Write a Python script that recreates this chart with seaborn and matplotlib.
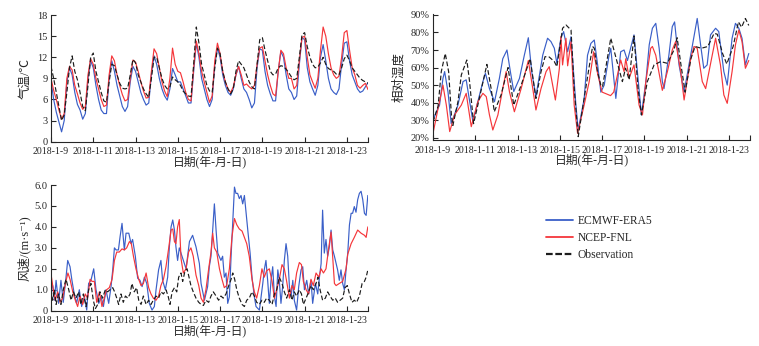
import numpy as np
import pandas as pd
import matplotlib
matplotlib.use("Agg")
import matplotlib.pyplot as plt
from matplotlib.lines import Line2D
import seaborn as sns

# ---------------- data ----------------
START = pd.Timestamp("2018-01-09")
sources = ["ECMWF-ERA5", "NCEP-FNL", "Observation"]
tick_dates = ["2018-01-09", "2018-01-11", "2018-01-13", "2018-01-15",
              "2018-01-17", "2018-01-19", "2018-01-21", "2018-01-23", "2018-01-24"]
tick_labels = ["2018-1-9", "2018-1-11", "2018-1-13", "2018-1-15",
               "2018-1-17", "2018-1-19", "2018-1-21", "2018-1-23", ""]

# Temperature, 3-hourly from 2018-01-09 00:00 (hours)
temp_hours = list(range(0, 361, 3))
temp_ecmwf = [8.7, 6.0, 4.2, 2.8, 1.4, 3.0, 8.5, 10.5,
              9.5, 7.0, 5.3, 4.5, 3.2, 4.0, 9.0, 11.5,
              10.5, 8.0, 6.0, 4.5, 4.0, 4.0, 9.0, 11.5,
              10.0, 8.0, 6.5, 5.0, 4.3, 5.0, 8.5, 10.7,
              10.0, 8.5, 7.0, 6.0, 5.2, 5.5, 9.5, 12.2,
              11.0, 9.0, 7.5, 6.5, 5.9, 7.5, 10.4, 9.5,
              8.5, 8.5, 7.5, 6.5, 5.5, 5.5, 10.0, 14.0,
              12.0, 9.0, 7.5, 6.0, 5.0, 6.0, 11.0, 13.3,
              12.0, 9.5, 8.0, 7.0, 6.6, 7.5, 9.5, 10.7,
              9.0, 7.5, 7.0, 6.0, 4.8, 5.5, 10.5, 13.2,
              13.0, 10.0, 8.0, 6.8, 5.8, 5.8, 10.0, 12.8,
              12.0, 9.5, 7.5, 7.0, 6.0, 6.5, 11.0, 14.8,
              14.5, 10.5, 8.5, 7.5, 6.6, 8.0, 12.0, 13.8,
              11.5, 9.0, 7.5, 7.0, 6.7, 7.5, 11.0, 14.0,
              14.2, 11.5, 9.5, 8.5, 7.5, 7.0, 7.2, 7.8,
              8.4]
temp_ncep = [9.0, 7.3, 6.0, 4.5, 3.2, 4.0, 9.0, 10.7,
             10.2, 8.0, 6.8, 5.5, 4.6, 5.0, 9.5, 11.8,
             11.0, 9.0, 7.5, 6.0, 5.0, 5.2, 9.5, 12.2,
             11.5, 9.5, 8.0, 6.7, 5.8, 6.0, 9.0, 11.6,
             11.3, 10.0, 8.5, 7.2, 6.2, 6.3, 10.0, 13.2,
             12.5, 10.5, 8.5, 7.2, 6.4, 9.0, 13.3, 11.0,
             10.0, 9.8, 8.5, 7.0, 6.0, 5.8, 10.5, 14.3,
             12.5, 10.0, 8.5, 7.0, 5.6, 6.5, 11.5, 14.0,
             12.5, 10.0, 8.5, 7.5, 7.0, 7.8, 9.5, 10.7,
             9.5, 8.0, 8.2, 7.8, 7.5, 8.0, 11.0, 13.3,
             13.5, 11.5, 9.5, 8.0, 6.8, 6.5, 10.0, 13.0,
             12.5, 10.5, 9.0, 9.0, 7.5, 8.0, 11.5, 14.8,
             15.0, 12.0, 9.5, 8.5, 7.6, 9.0, 13.0, 16.3,
             15.0, 12.5, 10.5, 9.5, 9.0, 9.3, 12.0, 15.5,
             15.8, 13.0, 10.5, 9.5, 8.0, 7.6, 8.0, 8.3,
             7.4]
temp_obs = [10.7, 9.0, 7.0, 5.0, 3.0, 3.8, 7.0, 10.5,
            12.2, 10.0, 8.8, 7.0, 5.0, 4.4, 8.0, 12.0,
            12.6, 10.0, 8.5, 7.0, 5.8, 5.6, 8.5, 11.0,
            10.8, 9.5, 8.3, 7.6, 7.5, 7.6, 9.5, 11.7,
            11.2, 9.5, 8.5, 7.5, 6.8, 6.3, 9.0, 12.0,
            12.0, 10.5, 9.0, 8.0, 7.5, 7.8, 9.2, 8.8,
            8.5, 8.0, 7.2, 6.8, 6.5, 6.4, 11.0, 16.3,
            14.0, 11.0, 9.5, 8.0, 7.2, 7.0, 10.5, 13.3,
            12.5, 10.0, 8.5, 7.5, 6.8, 7.5, 10.0, 11.5,
            11.0, 10.5, 9.5, 8.5, 7.8, 7.5, 11.0, 14.5,
            14.8, 13.0, 11.5, 10.0, 9.5, 9.6, 10.5, 10.8,
            10.7, 10.3, 9.8, 9.2, 8.8, 9.0, 12.0, 15.2,
            15.5, 13.5, 12.0, 11.0, 10.5, 10.6, 11.2, 12.0,
            11.0, 10.4, 10.2, 10.0, 9.6, 9.5, 10.5, 11.8,
            12.3, 11.5, 10.5, 10.0, 9.5, 9.0, 8.7, 8.5,
            8.3]

# Relative humidity (%), sample times in days since 2018-01-09 00:00
rh_ecmwf_days = [0, 0.16, 0.31, 0.47, 0.55, 0.71, 0.86, 1.18, 1.42, 1.57, 1.89, 2.12, 2.36, 2.48,
                 2.67, 2.91, 3.14, 3.3, 3.5, 3.66, 3.82, 4.09, 4.32, 4.51, 4.67, 4.87, 5.19, 5.42,
                 5.58, 5.74, 5.86, 6.05, 6.18, 6.37, 6.53, 6.76, 6.87, 7.15, 7.31, 7.47, 7.63, 7.79,
                 7.94, 8.1, 8.33, 8.41, 8.65, 8.88, 9.04, 9.2, 9.51, 9.67, 9.86, 10.07, 10.23, 10.38,
                 10.54, 10.7, 10.85, 10.93, 11.16, 11.32, 11.43, 11.64, 11.88, 12.19, 12.5, 12.66,
                 12.81, 12.97, 13.13, 13.37, 13.52, 13.76, 13.92, 14.15, 14.31, 14.47, 14.62, 14.78,
                 14.94]
rh_ecmwf = [30, 34.8, 38.6, 53.8, 57.7, 46, 28, 38.6, 52, 53, 29, 40.5, 52, 56.7,
            48, 40.5, 53.8, 65, 70, 57.7, 46.3, 53.8, 67, 77, 57.7, 43.4, 67, 76.7,
            74.8, 71, 62.4, 76.7, 80.5, 69, 77.6, 38.6, 24.4, 42, 67, 73.8, 75.7, 61.5,
            46, 50, 67, 71, 42.4, 69, 70, 64, 78.6, 57.7, 33, 52, 73, 82.4,
            85.2, 71, 52, 48, 67, 83.3, 86, 61.5, 46, 67, 88, 73,
            59.6, 61.5, 78.6, 82.4, 80.5, 57.7, 50, 76.7, 85.2, 82.4, 76.7, 61.5,
            68]
rh_ncep_days = [0, 0.24, 0.47, 0.63, 0.79, 1.02, 1.34, 1.57, 1.81, 2.12, 2.36, 2.52, 2.67, 2.83,
                3.07, 3.3, 3.46, 3.62, 3.85, 4.17, 4.51, 4.72, 4.87, 5.11, 5.35, 5.5, 5.79, 5.98,
                6.05, 6.13, 6.29, 6.37, 6.53, 6.68, 6.84, 7.15, 7.39, 7.6, 7.8, 8.0, 8.2, 8.4,
                8.55, 8.88, 9.04, 9.12, 9.28, 9.51, 9.75, 9.91, 10.07, 10.3, 10.38, 10.54, 10.77,
                10.85, 11.09, 11.32, 11.48, 11.72, 11.88, 12.19, 12.35, 12.5, 12.74, 12.9, 13.21,
                13.37, 13.6, 13.76, 13.92, 14.15, 14.31, 14.47, 14.62, 14.78, 14.94]
rh_ncep = [22.5, 36.7, 50, 38.6, 23.5, 33, 38.6, 45.3, 26.3, 40.5, 45.3, 43.4, 33, 24.4,
           33, 48, 57.7, 46, 34.8, 48, 64, 48, 35.8, 48, 57.7, 60.5, 41.5, 59.6,
           77.6, 61.5, 76.7, 61, 74.8, 38.6, 22.5, 38.6, 52, 69, 55.8, 46, 45, 44,
           46, 64.3, 57.7, 65, 54, 61.5, 38.6, 33, 52, 71, 72, 67, 52,
           47, 57.7, 70, 74.8, 57.7, 41.5, 65, 72, 71, 52, 48, 67,
           76.7, 61.5, 44.4, 39.6, 57.7, 73, 81.4, 74.8, 59.6, 64]
rh_obs_days = [0, 0.24, 0.39, 0.58, 0.74, 0.87, 0.94, 1.18, 1.34, 1.6, 1.73, 1.92, 2.12, 2.55,
               2.75, 2.9, 3.22, 3.55, 3.82, 4.17, 4.6, 4.8, 4.87, 5.11, 5.3, 5.5, 5.74, 5.86,
               6.13, 6.29, 6.53, 6.68, 6.87, 7.15, 7.39, 7.55, 7.63, 7.78, 7.94, 8.02, 8.41,
               8.67, 8.96, 9.11, 9.28, 9.51, 9.7, 9.86, 10.14, 10.46, 10.77, 11.09, 11.4, 11.55,
               11.75, 11.93, 12.2, 12.4, 12.7, 13.0, 13.3, 13.45, 13.7, 13.9, 14.2, 14.45,
               14.6, 14.78, 14.94]
rh_obs = [29, 38, 57.6, 68, 57.6, 33, 27, 40.5, 55.8, 64.3, 52, 28, 38.6, 61.8,
          48, 34.8, 44.4, 60, 38.6, 50, 65, 48, 42.4, 57.6, 66.2, 66, 63.4, 60.5,
          82.4, 84.3, 81.4, 48, 20.6, 42.4, 60.5, 72, 71, 57.7, 50, 49, 76.7,
          65, 52, 59.6, 53, 78, 48, 33, 52, 61.5, 63.4, 62.4, 70, 77,
          60, 46, 65, 72, 71, 72, 79.5, 79, 68, 62, 72, 86,
          83, 88, 84]

# Wind speed (m/s), sample times in days since 2018-01-09 00:00
ws_ecmwf_days = [0, 0.08, 0.16, 0.24, 0.36, 0.47, 0.58, 0.71, 0.79, 0.9, 0.99, 1.1, 1.21, 1.34,
                 1.45, 1.58, 1.69, 1.78, 1.89, 2.02, 2.13, 2.26, 2.37, 2.48, 2.6, 2.73, 2.84, 2.92,
                 3.0, 3.08, 3.19, 3.27, 3.36, 3.47, 3.55, 3.68, 3.79, 3.86, 3.99, 4.1, 4.21, 4.31,
                 4.42, 4.53, 4.65, 4.78, 4.89, 4.97, 5.09, 5.2, 5.28, 5.41, 5.52, 5.6, 5.68, 5.76,
                 5.84, 5.91, 5.99, 6.07, 6.39, 6.55, 6.7, 6.86, 7.02, 7.1, 7.26, 7.41, 7.49, 7.57,
                 7.65, 7.73, 7.81, 7.89, 8.04, 8.12, 8.2, 8.28, 8.36, 8.44, 8.52, 8.6, 8.68, 8.75,
                 8.83, 8.91, 8.99, 9.07, 9.15, 9.23, 9.31, 9.42, 9.51, 9.62, 9.7, 9.86, 9.94, 10.02,
                 10.09, 10.17, 10.25, 10.33, 10.41, 10.49, 10.57, 10.65, 10.73, 10.8, 10.88, 10.96,
                 11.04, 11.12, 11.2, 11.28, 11.36, 11.44, 11.51, 11.62, 11.72, 11.83, 11.91, 11.99,
                 12.1, 12.19, 12.3, 12.38, 12.51, 12.62, 12.7, 12.78, 12.85, 12.93, 13.01, 13.09,
                 13.17, 13.25, 13.33, 13.41, 13.49, 13.56, 13.64, 13.72, 13.8, 13.88, 13.96, 14.04,
                 14.12, 14.2, 14.27, 14.35, 14.43, 14.51, 14.59, 14.67, 14.75, 14.83, 14.91, 14.99]
ws_ecmwf = [1.07, 1.2, 0.5, 1.45, 0.35, 1.45, 0.4, 1.6, 2.4, 2.1, 1.45, 0.8, 0.35, 1.0,
            0.2, 0.67, 0.03, 1.3, 1.45, 2.0, 1.0, 0.35, 0.67, 0.2, 1.0, 0.35, 1.15, 1.95,
            3.0, 2.9, 2.9, 3.55, 4.17, 2.9, 3.7, 3.7, 3.2, 3.4, 2.6, 1.55, 1.45, 1.15,
            1.6, 1.3, 0.35, 0.03, 0.2, 1.0, 1.95, 2.4, 1.45, 1.0, 1.6, 3.05, 4.0, 4.33,
            3.85, 3.05, 2.4, 3.0, 2.0, 3.3, 3.6, 3.05, 2.25, 1.3, 0.5, 1.15, 2.1, 2.6,
            3.85, 5.1, 3.85, 2.75, 2.4, 2.6, 1.6, 1.8, 0.35, 0.67, 2.6, 4.2, 5.9, 5.6,
            5.6, 5.35, 5.5, 5.1, 5.5, 4.65, 3.85, 2.75, 1.6, 0.67, 0.2, 0.03, 0.67, 1.3,
            1.95, 2.4, 1.45, 0.35, 1.45, 2.1, 0.67, 0.2, 1.95, 1.45, 0.35, 1.15,
            2.4, 3.2, 2.6, 1.15, 0.67, 1.45, 0.5, 0.03, 1.15, 1.95, 2.1, 1.0,
            1.45, 0.8, 1.45, 0.35, 1.3, 0.8, 1.6, 2.25, 4.8, 2.75, 3.4, 2.6,
            3.05, 3.85, 2.9, 2.6, 2.25, 1.95, 1.45, 1.95, 1.3, 1.0, 1.95, 2.75,
            4.1, 4.65, 4.65, 4.97, 4.7, 5.3, 5.6, 5.7, 5.3, 4.65, 4.55, 5.5]
ws_ncep_days = [0, 0.11, 0.2, 0.32, 0.43, 0.55, 0.68, 0.8, 0.9, 1.03, 1.15, 1.26, 1.37, 1.5,
                1.62, 1.73, 1.85, 1.94, 2.05, 2.16, 2.29, 2.41, 2.52, 2.63, 2.76, 2.89, 3.0, 3.11,
                3.23, 3.36, 3.47, 3.58, 3.71, 3.8, 3.9, 4.02, 4.15, 4.26, 4.37, 4.5, 4.62, 4.73,
                4.84, 4.97, 5.09, 5.2, 5.32, 5.44, 5.57, 5.68, 5.76, 5.84, 5.91, 5.99, 6.07, 6.15,
                6.26, 6.39, 6.51, 6.62, 6.73, 6.86, 6.99, 7.1, 7.21, 7.33, 7.46, 7.57, 7.65, 7.73,
                7.84, 7.97, 8.09, 8.2, 8.31, 8.44, 8.56, 8.68, 8.79, 8.91, 9.04, 9.15, 9.26, 9.38,
                9.51, 9.62, 9.73, 9.86, 9.98, 10.09, 10.2, 10.33, 10.46, 10.57, 10.68, 10.8, 10.93,
                11.04, 11.15, 11.28, 11.4, 11.51, 11.62, 11.75, 11.85, 11.94, 12.07, 12.19, 12.3,
                12.41, 12.54, 12.67, 12.78, 12.89, 13.01, 13.14, 13.25, 13.33, 13.41, 13.49, 13.64,
                13.8, 13.96, 14.04, 14.2, 14.35, 14.51, 14.67, 14.83, 14.91, 14.99]
ws_ncep = [1.75, 1.0, 0.5, 0.9, 0.4, 0.6, 1.3, 1.8, 1.5, 0.9, 0.5, 0.2, 0.7, 0.3,
           0.8, 0.6, 1.5, 1.4, 1.4, 0.4, 0.9, 0.2, 0.6, 1.0, 1.1, 1.5, 2.4, 2.8,
           2.8, 2.95, 2.9, 3.0, 3.3, 3.2, 2.6, 2.0, 1.5, 1.2, 1.3, 1.8, 1.1, 0.8,
           0.6, 0.5, 0.7, 1.2, 1.5, 2.1, 3.0, 3.85, 3.9, 3.3, 3.2, 4.0, 4.35, 2.5,
           1.8, 2.0, 2.8, 3.0, 2.6, 1.7, 1.2, 0.6, 0.4, 1.0, 2.0, 2.8, 3.7, 3.0,
           2.8, 2.0, 1.5, 1.1, 1.2, 2.0, 3.5, 4.4, 4.1, 3.9, 3.8, 3.5, 3.2, 2.6,
           1.5, 0.9, 0.6, 1.2, 2.0, 1.6, 1.9, 2.0, 1.4, 0.6, 1.0, 1.5, 2.2,
           2.0, 1.4, 0.6, 1.2, 1.0, 1.8, 2.3, 2.2, 1.4, 1.0, 0.8, 1.5,
           1.2, 1.8, 1.6, 2.0, 1.8, 2.0, 3.0, 3.75, 2.5, 1.3, 1.2, 1.3,
           1.4, 2.0, 2.7, 3.2, 3.5, 3.85, 3.7, 3.6, 3.5, 4.0]
ws_obs_days = [0, 0.08, 0.16, 0.24, 0.36, 0.47, 0.58, 0.71, 0.84, 0.95, 1.06, 1.18, 1.31, 1.42,
               1.53, 1.66, 1.78, 1.89, 2.0, 2.1, 2.21, 2.32, 2.44, 2.57, 2.68, 2.79, 2.92, 3.01,
               3.11, 3.2, 3.31, 3.42, 3.52, 3.63, 3.74, 3.83, 3.94, 4.05, 4.15, 4.26, 4.37, 4.5,
               4.62, 4.73, 4.84, 4.97, 5.09, 5.2, 5.32, 5.44, 5.54, 5.63, 5.73, 5.84, 5.95, 6.04,
               6.15, 6.23, 6.34, 6.44, 6.55, 6.62, 6.73, 6.86, 6.99, 7.1, 7.21, 7.33, 7.46, 7.57,
               7.68, 7.81, 7.93, 8.04, 8.15, 8.28, 8.41, 8.52, 8.6, 8.69, 8.79, 8.91, 9.04, 9.15,
               9.26, 9.38, 9.51, 9.62, 9.73, 9.86, 9.98, 10.09, 10.2, 10.33, 10.46, 10.57, 10.68,
               10.8, 10.93, 11.04, 11.15, 11.28, 11.4, 11.51, 11.62, 11.75, 11.85, 11.94, 12.07,
               12.19, 12.3, 12.41, 12.54, 12.63, 12.73, 12.85, 12.98, 13.09, 13.2, 13.33, 13.45,
               13.56, 13.68, 13.8, 13.91, 14.02, 14.12, 14.24, 14.35, 14.46, 14.59, 14.72, 14.83,
               14.91, 14.98]
ws_obs = [1.0, 0.5, 1.0, 0.3, 0.8, 0.3, 1.0, 1.5, 1.0, 0.5, 0.9, 0.6, 0.9, 0.3,
          0.8, 0.2, 1.0, 1.3, 0.5, 0.1, 0.3, 0.9, 0.6, 1.0, 0.9, 1.0, 1.1, 0.9,
          0.6, 0.3, 0.8, 0.4, 0.7, 0.6, 0.8, 1.3, 0.9, 1.1, 0.5, 0.3, 0.7, 0.3,
          0.5, 0.3, 0.5, 0.7, 0.6, 0.9, 0.8, 1.0, 0.7, 0.3, 0.9, 1.1, 0.9, 1.6,
          1.8, 1.4, 1.9, 2.0, 1.5, 1.2, 0.9, 0.6, 0.4, 0.3, 0.25, 0.5, 0.4, 0.7,
          0.9, 0.7, 0.5, 0.7, 0.6, 0.8, 1.2, 1.5, 1.8, 1.5, 1.0, 0.6, 0.3, 0.2,
          0.5, 0.6, 0.9, 0.7, 0.4, 0.3, 0.5, 0.4, 0.6, 0.5, 0.3, 0.8, 1.0,
          1.6, 1.3, 0.9, 0.6, 1.0, 0.5, 0.9, 0.7, 1.0, 0.8, 0.3, 0.6,
          0.9, 1.2, 1.0, 1.3, 1.6, 1.0, 0.5, 0.6, 0.9, 0.7, 0.5, 0.6,
          0.4, 0.5, 0.6, 1.1, 1.2, 0.8, 0.4, 0.5, 0.4, 0.7, 1.3, 1.4,
          1.6, 1.9]

temp_ticks = [0, 3, 6, 9, 12, 15, 18]
rh_ticks = [20, 30, 40, 50, 60, 70, 80, 90]
ws_ticks = [0, 1, 2, 3, 4, 5, 6]
ws_tick_labels = ["0", "1.0", "2.0", "3.0", "4.0", "5.0", "6.0"]

# ---------------- style ----------------
sns.set_style("ticks")
plt.rcParams["font.family"] = ["Liberation Serif", "Noto Sans CJK SC", "DejaVu Sans"]
plt.rcParams["axes.linewidth"] = 0.8

palette = {"ECMWF-ERA5": "#3a5fc8", "NCEP-FNL": "#f5363a", "Observation": "#1c1c1c"}
dash_map = {"ECMWF-ERA5": "", "NCEP-FNL": "", "Observation": (4, 2)}
LW = 0.85


def long_frame(parts):
    frames = []
    for src, days, vals in parts:
        t = START + pd.to_timedelta(np.asarray(days, dtype=float), unit="D")
        frames.append(pd.DataFrame({"time": t, "value": vals, "source": src}))
    return pd.concat(frames, ignore_index=True)


temp_days = [h / 24 for h in temp_hours]
df_temp = long_frame([("ECMWF-ERA5", temp_days, temp_ecmwf),
                      ("NCEP-FNL", temp_days, temp_ncep),
                      ("Observation", temp_days, temp_obs)])
df_rh = long_frame([("ECMWF-ERA5", rh_ecmwf_days, rh_ecmwf),
                    ("NCEP-FNL", rh_ncep_days, rh_ncep),
                    ("Observation", rh_obs_days, rh_obs)])
df_ws = long_frame([("ECMWF-ERA5", ws_ecmwf_days, ws_ecmwf),
                    ("NCEP-FNL", ws_ncep_days, ws_ncep),
                    ("Observation", ws_obs_days, ws_obs)])

fig = plt.figure(figsize=(7.59, 3.46), dpi=100)
ax_t = fig.add_axes([0.0672, 0.5905, 0.4177, 0.366])
ax_h = fig.add_axes([0.5705, 0.5954, 0.4177, 0.364])
ax_w = fig.add_axes([0.0672, 0.1020, 0.4177, 0.3633])

xdates = pd.to_datetime(tick_dates)
xlim = (START, START + pd.Timedelta(days=15))

for ax, df in [(ax_t, df_temp), (ax_h, df_rh), (ax_w, df_ws)]:
    sns.lineplot(data=df, x="time", y="value", hue="source", style="source",
                 hue_order=sources, style_order=sources, palette=palette,
                 dashes=dash_map, estimator=None, sort=False, linewidth=LW,
                 legend=False, ax=ax)
    ax.set_xlim(*xlim)
    ax.set_xticks(xdates)
    ax.set_xticklabels(tick_labels)
    ax.tick_params(direction="in", length=3.5, width=0.8, labelsize=7.5)
    ax.tick_params(axis="x", pad=4, labelsize=7.1)
    ax.tick_params(axis="y", pad=2.5)
    sns.despine(ax=ax)
    ax.set_xlabel("日期(年-月-日)", fontsize=8.5, labelpad=0)

ax_t.set_ylim(0, 18)
ax_t.set_yticks(temp_ticks)
ax_t.set_ylabel("气温/℃", fontsize=9, labelpad=4)

ax_h.set_ylim(18.7, 90.5)
ax_h.set_yticks(rh_ticks)
ax_h.set_yticklabels([f"{v}%" for v in rh_ticks])
ax_h.set_ylabel("相对湿度", fontsize=9, labelpad=4)

ax_w.set_ylim(0, 6)
ax_w.set_yticks(ws_ticks)
ax_w.set_yticklabels(ws_tick_labels)
ax_w.set_ylabel("风速/(m·s⁻¹)", fontsize=9, labelpad=3)

handles = []
for s in sources:
    if s == "Observation":
        handles.append(Line2D([], [], color=palette[s], lw=1.6, linestyle=(0, (3, 1.2))))
    else:
        handles.append(Line2D([], [], color=palette[s], lw=1.3, linestyle="-"))
fig.legend(handles, sources, loc="upper left", bbox_to_anchor=(0.712, 0.395),
           frameon=False, borderpad=0, handlelength=2.3, handletextpad=0.4,
           labelspacing=0.45, fontsize=8.3)

fig.savefig("out.png", dpi=100)
